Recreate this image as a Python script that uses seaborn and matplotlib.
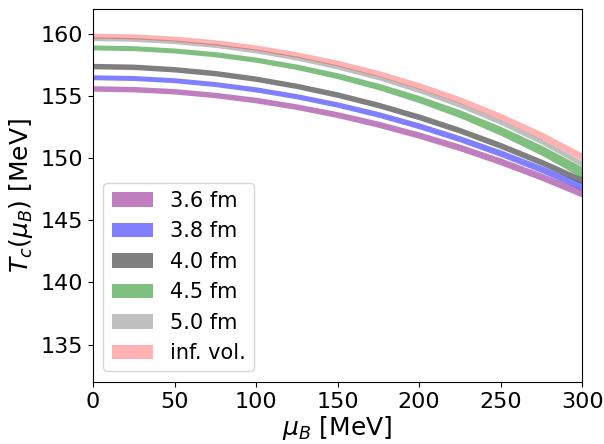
import numpy as np
import pandas as pd
import matplotlib
matplotlib.use("Agg")
import matplotlib.pyplot as plt
from matplotlib.patches import Patch
import seaborn as sns

# chemical potential grid [MeV]
mu_B = [0, 25, 50, 75, 100, 125, 150, 175, 200, 225, 250, 275, 300]

# band centres T_c(mu_B) [MeV]
tc_36 = [155.60, 155.54, 155.37, 155.07, 154.66, 154.13, 153.49, 152.72, 151.84, 150.85, 149.73, 148.50, 147.15]
tc_38 = [156.50, 156.44, 156.26, 155.95, 155.52, 154.97, 154.30, 153.51, 152.59, 151.55, 150.39, 149.11, 147.70]
tc_40 = [157.40, 157.34, 157.14, 156.83, 156.38, 155.80, 155.10, 154.27, 153.31, 152.23, 151.01, 149.67, 148.20]
tc_45 = [158.90, 158.84, 158.65, 158.35, 157.91, 157.34, 156.62, 155.76, 154.74, 153.56, 152.19, 150.63, 148.85]
tc_50 = [159.60, 159.54, 159.35, 159.05, 158.61, 158.04, 157.32, 156.46, 155.44, 154.26, 152.89, 151.33, 149.55]
tc_inf = [159.85, 159.79, 159.61, 159.31, 158.89, 158.33, 157.64, 156.81, 155.82, 154.67, 153.34, 151.82, 150.10]

# band half widths [MeV]
err_36 = [0.22, 0.22, 0.22, 0.22, 0.23, 0.23, 0.24, 0.25, 0.26, 0.27, 0.28, 0.29, 0.30]
err_38 = [0.20, 0.20, 0.20, 0.20, 0.21, 0.21, 0.22, 0.23, 0.24, 0.25, 0.27, 0.28, 0.30]
err_40 = [0.22, 0.22, 0.22, 0.22, 0.22, 0.22, 0.23, 0.23, 0.24, 0.24, 0.25, 0.25, 0.26]
err_45 = [0.20, 0.20, 0.20, 0.21, 0.21, 0.22, 0.24, 0.26, 0.29, 0.32, 0.36, 0.40, 0.45]
err_50 = [0.15, 0.15, 0.15, 0.15, 0.16, 0.16, 0.17, 0.17, 0.18, 0.19, 0.20, 0.21, 0.22]
err_inf = [0.20, 0.20, 0.20, 0.21, 0.21, 0.22, 0.23, 0.24, 0.25, 0.26, 0.27, 0.29, 0.30]

labels = ["3.6 fm", "3.8 fm", "4.0 fm", "4.5 fm", "5.0 fm", "inf. vol."]
colors = ["purple", "blue", "black", "green", "gray", "red"]
alphas = [0.5, 0.5, 0.5, 0.5, 0.5, 0.3]
centres = [tc_36, tc_38, tc_40, tc_45, tc_50, tc_inf]
errors = [err_36, err_38, err_40, err_45, err_50, err_inf]

sns.set_style("ticks", {"axes.edgecolor": "black", "xtick.color": "black",
                        "ytick.color": "black", "text.color": "black",
                        "axes.labelcolor": "black"})

fig = plt.figure(figsize=(6.04, 4.44), dpi=100)
ax = fig.add_axes([0.154, 0.14, 0.81, 0.84])

handles = []
for tc, err, lab, col, a in zip(centres, errors, labels, colors, alphas):
    tc = np.array(tc)
    err = np.array(err)
    # lower and upper edge of the band as two observations per mu_B
    df = pd.DataFrame({"mu": mu_B * 2, "T": np.concatenate([tc - err, tc + err])})
    sns.lineplot(data=df, x="mu", y="T", estimator="mean",
                 errorbar=lambda v: (v.min(), v.max()),
                 color=col, linewidth=0, err_kws={"alpha": a, "linewidth": 0},
                 ax=ax)
    handles.append(Patch(facecolor=col, alpha=a, edgecolor="none", label=lab))

ax.set_xlim(0, 300)
ax.set_ylim(132, 162)
ax.set_yticks([135, 140, 145, 150, 155, 160])
ax.set_xlabel(r"$\mu_B$ [MeV]", fontsize=18, labelpad=2)
ax.set_ylabel(r"$T_c(\mu_B)$ [MeV]", fontsize=18, labelpad=4)
ax.tick_params(labelsize=16)
ax.legend(handles=handles, loc="lower left", fontsize=15)

fig.savefig("out.png", dpi=100)
